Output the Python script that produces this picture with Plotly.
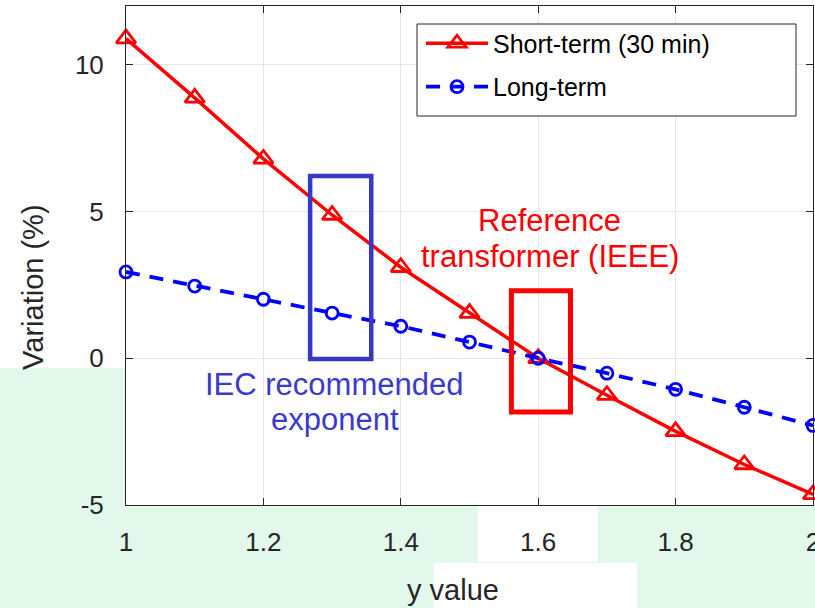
import plotly.graph_objects as go

# ---- data ----
y_values = [1.0, 1.1, 1.2, 1.3, 1.4, 1.5, 1.6, 1.7, 1.8, 1.9, 2.0]
short_term = [10.89, 8.87, 6.79, 4.88, 3.10, 1.54, 0.0, -1.26, -2.49, -3.62, -4.64]
long_term = [2.94, 2.46, 2.01, 1.54, 1.09, 0.55, 0.0, -0.51, -1.06, -1.67, -2.29]
x_ticks = [1, 1.2, 1.4, 1.6, 1.8, 2]
x_tick_labels = ["1", "1.2", "1.4", "1.6", "1.8", "2"]
y_ticks = [-5, 0, 5, 10]
y_tick_labels = ["-5", "0", "5", "10"]

FONT = "Liberation Sans, Arial, Helvetica, sans-serif"
AX = "#262626"
MINT = "#e1f8eb"

fig = go.Figure()
fig.add_trace(go.Scatter(
    x=y_values, y=short_term, mode="lines+markers", name="Short-term (30 min)",
    legendgroup="a",
    line=dict(color="#ff0000", width=3.5),
    marker=dict(symbol="triangle-up-open", size=17, color="#ff0000",
                line=dict(width=2.8, color="#ff0000")),
    cliponaxis=False,
))
fig.add_trace(go.Scatter(
    x=y_values, y=long_term, mode="lines+markers", name="Long-term",
    legendgroup="b",
    line=dict(color="#0000ff", width=3.8, dash="14px,10px"),
    marker=dict(symbol="circle-open", size=12, color="#0000ff",
                line=dict(width=2.8, color="#0000ff")),
    cliponaxis=False,
))

shapes = [
    # background tints outside plot area
    dict(type="rect", xref="paper", yref="paper", x0=-0.19, x1=0, y0=0.2745, y1=0,
         fillcolor=MINT, line=dict(width=0), layer="below"),
    dict(type="rect", xref="paper", yref="paper", x0=-0.19, x1=1.01, y0=0, y1=-0.21,
         fillcolor=MINT, line=dict(width=0), layer="below"),
    dict(type="rect", xref="paper", yref="paper", x0=0.512, x1=0.687, y0=-0.002, y1=-0.114,
         fillcolor="#ffffff", line=dict(width=0), layer="below"),
    dict(type="rect", xref="paper", yref="paper", x0=0.448, x1=0.744, y0=-0.116, y1=-0.21,
         fillcolor="#ffffff", line=dict(width=0), layer="below"),
    # highlight boxes
    dict(type="rect", xref="x", yref="y", x0=1.268, x1=1.357, y0=-0.03, y1=6.21,
         line=dict(color="#3838c8", width=4.5), fillcolor="rgba(0,0,0,0)", layer="above"),
    dict(type="rect", xref="x", yref="y", x0=1.561, x1=1.647, y0=-1.83, y1=2.30,
         line=dict(color="#ff0000", width=5), fillcolor="rgba(0,0,0,0)", layer="above"),
    # legend box
    dict(type="rect", xref="paper", yref="paper",
         x0=(417 - 126) / 687, x1=(796 - 126) / 687,
         y0=(505 - 24) / 499, y1=(505 - 116) / 499,
         fillcolor="#ffffff", line=dict(color=AX, width=1), layer="above"),
]

annotations = [
    dict(text="Reference", x=1.617, y=4.68, xref="x", yref="y", showarrow=False,
         font=dict(family=FONT, size=31, color="#ff0000"), xanchor="center", yanchor="middle"),
    dict(text="transformer (IEEE)", x=1.617, y=3.45, xref="x", yref="y", showarrow=False,
         font=dict(family=FONT, size=31, color="#ff0000"), xanchor="center", yanchor="middle"),
    dict(text="IEC recommended", x=1.303, y=-0.89, xref="x", yref="y", showarrow=False,
         font=dict(family=FONT, size=31, color="#3a3acc"), xanchor="center", yanchor="middle"),
    dict(text="exponent", x=1.304, y=-2.08, xref="x", yref="y", showarrow=False,
         font=dict(family=FONT, size=31, color="#3a3acc"), xanchor="center", yanchor="middle"),
    # axis titles
    dict(text="Variation (%)", x=-0.1354, y=0.437, xref="paper", yref="paper", showarrow=False,
         textangle=-90, font=dict(family=FONT, size=29, color=AX), xanchor="center", yanchor="middle"),
    dict(text="y value", x=0.476, y=-0.1703, xref="paper", yref="paper", showarrow=False,
         font=dict(family=FONT, size=29, color=AX), xanchor="center", yanchor="middle"),
]

fig.update_layout(
    width=815, height=608,
    margin=dict(l=126, r=2, t=6, b=103, autoexpand=False),
    paper_bgcolor="#ffffff", plot_bgcolor="#ffffff",
    font=dict(family=FONT, color=AX),
    shapes=shapes, annotations=annotations,
    showlegend=True,
    legend=dict(
        x=(421 - 126) / 687, y=0.971, xanchor="left", yanchor="top",
        bgcolor="rgba(0,0,0,0)", borderwidth=0,
        font=dict(family=FONT, size=25, color="#000000"),
        itemwidth=62, tracegroupgap=8,
    ),
)
fig.update_xaxes(
    range=[1, 2], tickvals=x_ticks, ticktext=x_tick_labels,
    showgrid=True, gridcolor="#e6e6e6", gridwidth=1,
    showline=True, linecolor=AX, linewidth=1, mirror="ticks",
    ticks="inside", ticklen=7, tickcolor=AX, tickwidth=1,
    tickfont=dict(family=FONT, size=26, color=AX), ticklabelstandoff=14,
    ticklabeloverflow="allow", automargin=False,
    zeroline=False,
)
fig.update_yaxes(
    range=[-5, 12], tickvals=y_ticks, ticktext=y_tick_labels,
    showgrid=True, gridcolor="#e6e6e6", gridwidth=1,
    showline=True, linecolor=AX, linewidth=1, mirror="ticks",
    ticks="inside", ticklen=7, tickcolor=AX, tickwidth=1,
    tickfont=dict(family=FONT, size=26, color=AX), ticklabelstandoff=16,
    ticklabeloverflow="allow", automargin=False,
    zeroline=False,
)

fig.write_html("out.html")
